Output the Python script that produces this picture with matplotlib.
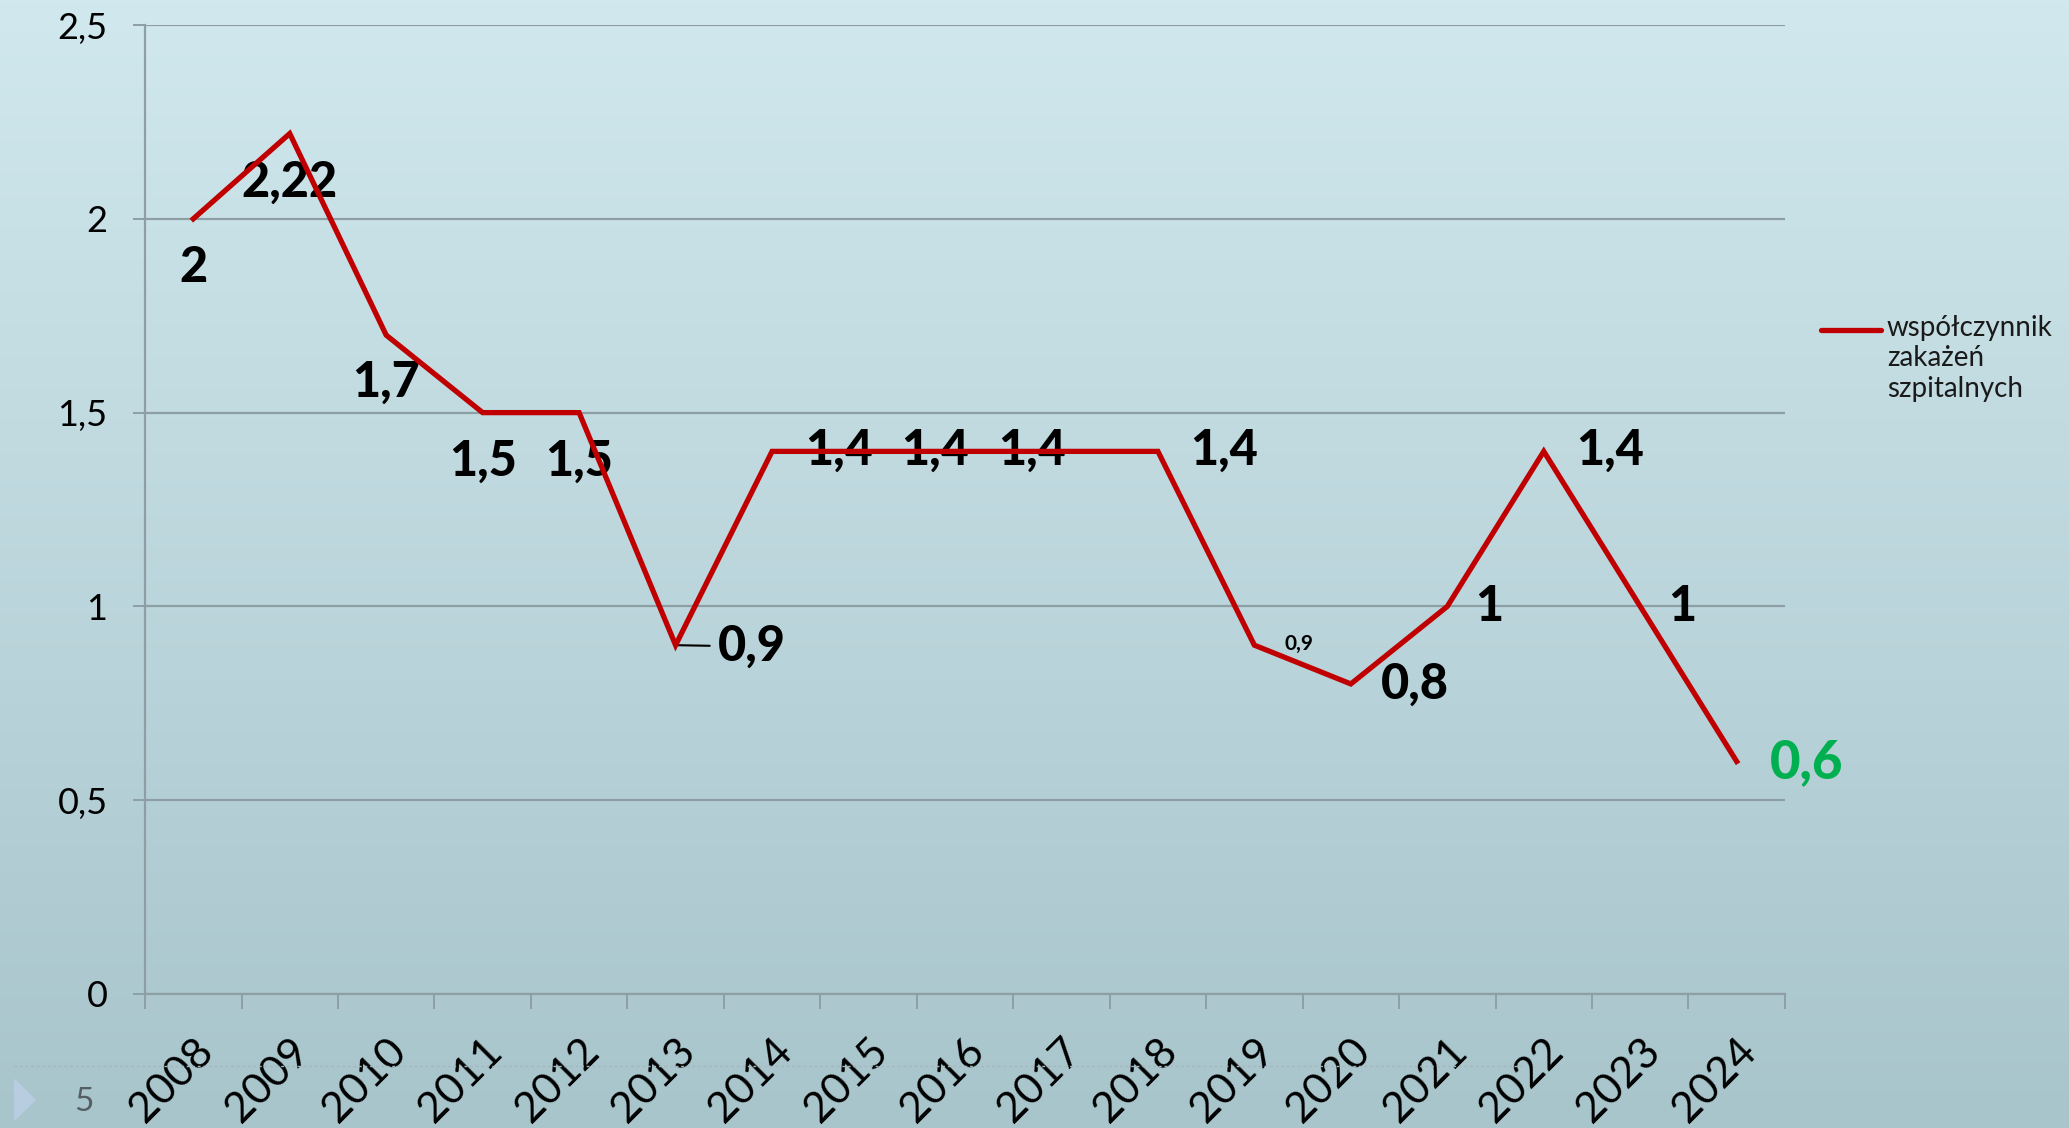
import numpy as np
import matplotlib.pyplot as plt
from matplotlib.lines import Line2D
from matplotlib.patches import Polygon
from matplotlib.ticker import FuncFormatter

plt.rcParams['font.family'] = ['Lato', 'DejaVu Sans']

years = ['2008', '2009', '2010', '2011', '2012', '2013', '2014', '2015', '2016',
         '2017', '2018', '2019', '2020', '2021', '2022', '2023', '2024']
values = [2, 2.22, 1.7, 1.5, 1.5, 0.9, 1.4, 1.4, 1.4, 1.4, 1.4, 0.9, 0.8, 1.0, 1.4, 1.0, 0.6]
labels = ['2', '2,22', '1,7', '1,5', '1,5', '0,9', '1,4', '1,4', '1,4', '',
          '1,4', '0,9', '0,8', '1', '1,4', '1', '0,6']
# offset of each value label from its point, in points
offsets = [(0, -35), (0, -35), (0, -34), (0, -35), (0, -35), (55, -1), (48, 1), (48, 1),
           (48, 1), (0, 0), (48, 1), (32, 1), (46, 0), (30, 0), (48, 1), (30, 0), (50, -1)]
legend_text = 'współczynnik\nzakażeń\nszpitalnych'

RED = '#c00000'
GRID = '#8d9fa5'

fig = plt.figure(figsize=(20.69, 11.28), dpi=100)

# slide background gradient
bg = fig.add_axes([0, 0, 1, 1], zorder=-10)
top = np.array([0xd0, 0xe8, 0xee]) / 255
bot = np.array([0xa8, 0xc5, 0xcb]) / 255
t = np.linspace(0, 1, 256)[:, None]
grad = (top * (1 - t) + bot * t)[:, None, :]
bg.imshow(grad, aspect='auto', extent=[0, 1, 0, 1])
bg.set_axis_off()

ax = fig.add_axes([0.0701, 0.1188, 0.7926, 0.859])
ax.set_facecolor('none')

x = np.arange(len(years))
ax.plot(x, values, color=RED, linewidth=3.8, zorder=5, solid_joinstyle='miter')

ax.set_xlim(-0.5, len(years) - 0.5)
ax.set_ylim(0, 2.5)
ax.set_yticks(np.arange(0, 2.51, 0.5))
ax.yaxis.set_major_formatter(FuncFormatter(lambda v, p: f'{v:g}'.replace('.', ',')))
ax.grid(axis='y', color=GRID, linewidth=1.6)
ax.set_axisbelow(True)

ax.set_xticks(x)
ax.set_xticklabels(years, rotation=45, ha='right', va='top', rotation_mode='anchor')
ax.set_xticks(np.arange(-0.5, len(years), 1), minor=True)
ax.tick_params(axis='x', which='major', length=0, pad=27, labelsize=31)
ax.tick_params(axis='x', which='minor', length=11, width=1.4, color=GRID, direction='out')
ax.tick_params(axis='y', length=9, width=1.4, color=GRID, pad=18, labelsize=26)

for s in ['top', 'right']:
    ax.spines[s].set_visible(False)
for s in ['left', 'bottom']:
    ax.spines[s].set_color(GRID)
    ax.spines[s].set_linewidth(1.6)

for i, (v, lab, off) in enumerate(zip(values, labels, offsets)):
    if not lab:
        continue
    kw = dict(fontsize=35, fontweight=900, color='black')
    if i == len(values) - 1:
        kw.update(color='#00b050', fontsize=38)
    if i == 11:
        kw.update(fontsize=15, fontweight='bold')
    if i == 5:
        ax.annotate(lab, (i, v), xytext=off, textcoords='offset points', ha='center',
                    va='center', zorder=3,
                    arrowprops=dict(arrowstyle='-', color='black', lw=1.5,
                                    shrinkA=4, shrinkB=2), **kw)
    else:
        ax.annotate(lab, (i, v), xytext=off, textcoords='offset points', ha='center',
                    va='center', zorder=3, **kw)

# legend drawn by hand so the line sits on the first text row
fig.add_artist(Line2D([0.880, 0.909], [0.7075, 0.7075], color=RED, linewidth=3.8,
                      solid_capstyle='round'))
fig.text(0.912, 0.7205, legend_text, fontsize=20, va='top', ha='left',
         color='#1a1a1a', linespacing=1.2)

# slide footer bits
fig.add_artist(Line2D([0.007, 0.735], [0.055, 0.055], color='#a0b8be', linewidth=1,
                      linestyle=(0, (2, 2))))
fig.add_artist(Polygon([[0.007, 0.007], [0.007, 0.043], [0.017, 0.025]], closed=True,
                       color='#b8cde0', transform=fig.transFigure))
fig.text(0.036, 0.023, '5', fontsize=24, color='#555f63', va='center')

fig.savefig('out.png', dpi=100)
